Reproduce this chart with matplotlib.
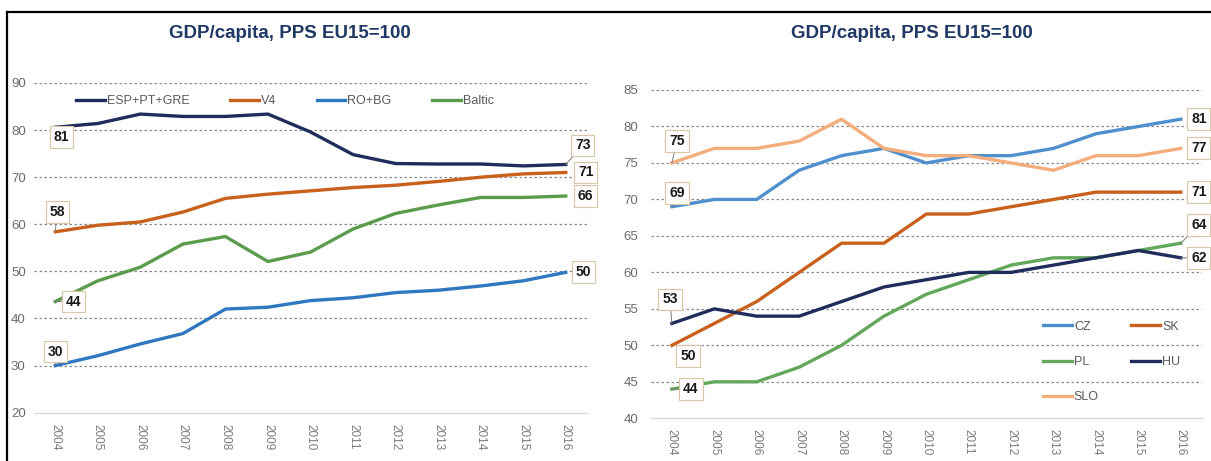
import matplotlib
matplotlib.use("Agg")
import matplotlib.pyplot as plt

plt.rcParams['font.family'] = ['Liberation Sans', 'DejaVu Sans']

years = ['2004', '2005', '2006', '2007', '2008', '2009', '2010',
         '2011', '2012', '2013', '2014', '2015', '2016']

# Left panel: country groups
esp_pt_gre = [80.6, 81.4, 83.4, 82.9, 82.9, 83.4, 79.6, 74.8, 72.9, 72.8, 72.8, 72.4, 72.7]
v4 = [58.4, 59.8, 60.5, 62.6, 65.5, 66.4, 67.1, 67.8, 68.3, 69.1, 70.0, 70.7, 71.0]
ro_bg = [30.0, 32.1, 34.6, 36.8, 42.0, 42.4, 43.8, 44.4, 45.5, 46.0, 46.9, 48.0, 49.8]
baltic = [43.6, 48.0, 50.9, 55.8, 57.4, 52.1, 54.1, 59.0, 62.3, 64.1, 65.7, 65.7, 66.0]

# Right panel: individual countries
cz = [69, 70, 70, 74, 76, 77, 75, 76, 76, 77, 79, 80, 81]
sk = [50, 53, 56, 60, 64, 64, 68, 68, 69, 70, 71, 71, 71]
pl = [44, 45, 45, 47, 50, 54, 57, 59, 61, 62, 62, 63, 64]
hu = [53, 55, 54, 54, 56, 58, 59, 60, 60, 61, 62, 63, 62]
slo = [75, 77, 77, 78, 81, 77, 76, 76, 75, 74, 76, 76, 77]

title = 'GDP/capita, PPS EU15=100'

NAVY = '#1f2c5c'
ORANGE = '#c9601c'
BLUE = '#2f78c0'
GREEN = '#5a9c4c'
LBLUE = '#4f8fcd'
LGREEN = '#62a75a'
LORANGE = '#f4ad7c'
GRID = '#8a8a8a'
TICK = '#6b6b6b'

fig = plt.figure(figsize=(12.11, 4.61), dpi=100)
W, H = 1211, 461


def px_axes(x0, x1, ytop, ybot):
    return fig.add_axes([x0 / W, 1 - ybot / H, (x1 - x0) / W, (ybot - ytop) / H])


def style(ax, lo, hi, step, ypad):
    x = range(len(years))
    ax.set_xlim(-0.5, len(years) - 0.5)
    ax.set_ylim(lo, hi)
    ax.set_yticks(range(lo, hi + 1, step))
    ax.set_xticks(list(x))
    ax.set_xticklabels(years, rotation=270, fontsize=8.5, color='#7a7a7a')
    ax.tick_params(axis='y', length=0, pad=ypad, labelsize=9.5, labelcolor=TICK)
    ax.tick_params(axis='x', length=0, pad=8)
    for s in ('top', 'right', 'left'):
        ax.spines[s].set_visible(False)
    ax.spines['bottom'].set_color('#d9d9d9')
    ax.spines['bottom'].set_linewidth(1.0)
    for v in range(lo + step, hi + 1, step):
        ax.axhline(v, color=GRID, lw=0.9, ls=(0, (2, 2)), zorder=0)


def tag(ax, xi, yv, txt, dx, dy, lead=False):
    kw = dict(xy=(xi, yv), xytext=(dx, dy), textcoords='offset pixels',
              ha='center', va='center', fontsize=10, fontweight='bold',
              color='#1a1a1a', annotation_clip=False, zorder=5,
              bbox=dict(boxstyle='square,pad=0.28', fc='white', ec='#d9c6a5', lw=0.8))
    if lead:
        kw['arrowprops'] = dict(arrowstyle='-', color='#7a7a7a', lw=0.7,
                                shrinkA=0, shrinkB=0)
    ax.annotate(txt, **kw)


LW = 2.4
xs = list(range(len(years)))
last = len(years) - 1

# ---- left panel ----
axl = px_axes(34, 587, 83, 412.7)
style(axl, 20, 90, 10, 6)
axl.plot(xs, esp_pt_gre, color=NAVY, lw=LW, label='ESP+PT+GRE')
axl.plot(xs, v4, color=ORANGE, lw=LW, label='V4')
axl.plot(xs, ro_bg, color=BLUE, lw=LW, label='RO+BG')
axl.plot(xs, baltic, color=GREEN, lw=LW, label='Baltic')

tag(axl, 0, esp_pt_gre[0], f'{esp_pt_gre[0]:.0f}', 6, -10)
tag(axl, 0, v4[0], f'{v4[0]:.0f}', 2, 20, lead=True)
tag(axl, 0, baltic[0], f'{baltic[0]:.0f}', 18, 0, lead=True)
tag(axl, 0, ro_bg[0], f'{ro_bg[0]:.0f}', 0, 14, lead=True)
tag(axl, last, esp_pt_gre[-1], f'{esp_pt_gre[-1]:.0f}', 17, 19, lead=True)
tag(axl, last, v4[-1], f'{v4[-1]:.0f}', 20, 0)
tag(axl, last, baltic[-1], f'{baltic[-1]:.0f}', 20, 0)
tag(axl, last, ro_bg[-1], f'{ro_bg[-1]:.0f}', 18, 0)

axl.legend(loc='center left', bbox_to_anchor=(0.067, 0.945), ncol=4, frameon=False,
           fontsize=9, labelcolor='#595959', handlelength=2.3, handletextpad=0.15,
           columnspacing=3.25, borderaxespad=0)

# ---- right panel ----
axr = px_axes(650.7, 1202, 90, 418.3)
style(axr, 40, 85, 5, 9)
axr.plot(xs, cz, color=LBLUE, lw=LW, label='CZ')
axr.plot(xs, sk, color=ORANGE, lw=LW, label='SK')
axr.plot(xs, pl, color=LGREEN, lw=LW, label='PL')
axr.plot(xs, hu, color=NAVY, lw=LW, label='HU')
axr.plot(xs, slo, color=LORANGE, lw=LW, label='SLO')

tag(axr, 0, slo[0], str(slo[0]), 5, 22, lead=True)
tag(axr, 0, cz[0], str(cz[0]), 5, 14, lead=True)
tag(axr, 0, hu[0], str(hu[0]), -2, 24, lead=True)
tag(axr, 0, sk[0], str(sk[0]), 16, -11)
tag(axr, 0, pl[0], str(pl[0]), 19, 0, lead=True)
tag(axr, last, cz[-1], str(cz[-1]), 18, 0)
tag(axr, last, slo[-1], str(slo[-1]), 18, 0)
tag(axr, last, sk[-1], str(sk[-1]), 18, 0)
tag(axr, last, pl[-1], str(pl[-1]), 18, 18, lead=True)
tag(axr, last, hu[-1], str(hu[-1]), 18, 0, lead=True)

h, l = axr.get_legend_handles_labels()
order = [0, 2, 4, 1, 3]
axr.legend([h[i] for i in order], [l[i] for i in order],
           loc='upper left', bbox_to_anchor=(0.703, 0.312), ncol=2, frameon=False,
           fontsize=9, labelcolor='#595959', handlelength=2.3, handletextpad=0.15,
           columnspacing=2.6, labelspacing=1.85, borderaxespad=0)

# titles
fig.text(290 / W, 1 - 33 / H, title, ha='center', va='center', fontsize=13.5,
         fontweight='bold', color='#1f3864')
fig.text(912 / W, 1 - 33 / H, title, ha='center', va='center', fontsize=13.5,
         fontweight='bold', color='#1f3864')

# frame lines along the top and left edge
fig.add_artist(plt.Line2D([7 / W, 1], [1 - 12 / H, 1 - 12 / H], color='black', lw=1.6,
                          transform=fig.transFigure))
fig.add_artist(plt.Line2D([7 / W, 7 / W], [0, 1 - 12 / H], color='black', lw=1.6,
                          transform=fig.transFigure))

fig.savefig('out.png', dpi=100)
